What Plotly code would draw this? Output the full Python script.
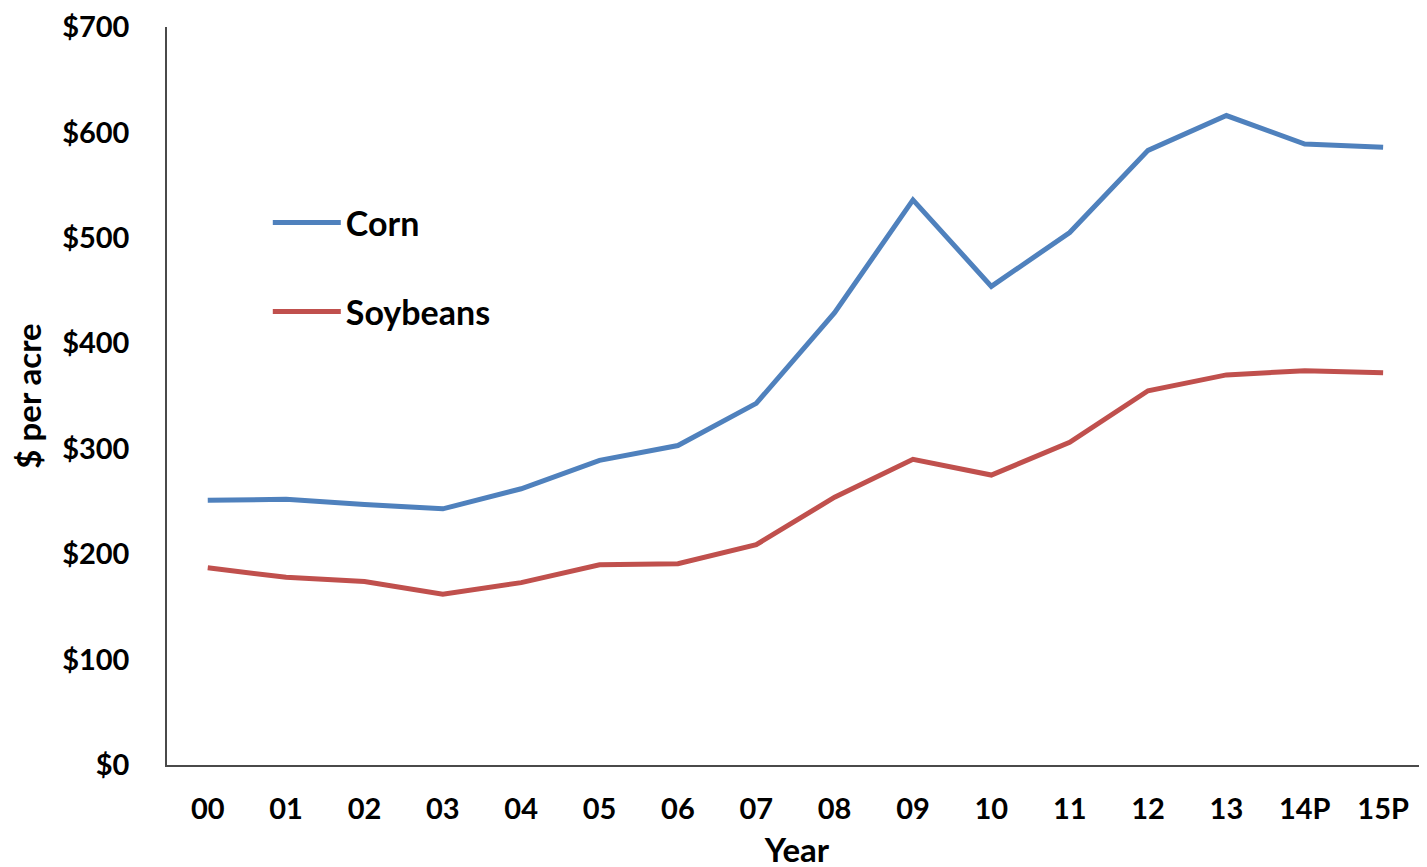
import plotly.graph_objects as go

years = ["00", "01", "02", "03", "04", "05", "06", "07", "08", "09", "10", "11", "12", "13", "14P", "15P"]
corn = [251, 252, 247, 243, 262, 289, 303, 343, 429, 536, 454, 505, 583, 616, 589, 586]
soybeans = [187, 178, 174, 162, 173, 190, 191, 209, 254, 290, 275, 306, 355, 370, 374, 372]
y_ticks = [0, 100, 200, 300, 400, 500, 600, 700]
y_tick_labels = ["$" + str(v) for v in y_ticks]

FONT = "Lato"

fig = go.Figure()
fig.add_trace(go.Scatter(x=years, y=corn, mode="lines", name="Corn",
                         line=dict(color="#4F81BD", width=5), legendgroup="a"))
fig.add_trace(go.Scatter(x=years, y=soybeans, mode="lines", name="Soybeans",
                         line=dict(color="#C0504D", width=5), legendgroup="b"))

fig.update_layout(
    width=1427, height=867,
    margin=dict(l=159, r=8, t=19, b=110),
    paper_bgcolor="white", plot_bgcolor="white",
    font=dict(family=FONT, size=29, color="black", weight="bold"),
    showlegend=True,
    legend=dict(x=0.08, y=0.774, xanchor="left", yanchor="top",
                font=dict(family=FONT, size=34, color="black", weight="bold"),
                tracegroupgap=42, itemwidth=68, bgcolor="rgba(0,0,0,0)"),
    xaxis=dict(
        type="category", range=[-0.52, 15.56], automargin=False,
        showline=True, linecolor="#4a4a4a", linewidth=1.5,
        showgrid=False, ticks="", ticklabelstandoff=17,
        tickfont=dict(family=FONT, size=29, weight="bold"),
        title=dict(text="Year", standoff=15,
                   font=dict(family=FONT, size=33, weight="bold")),
    ),
    yaxis=dict(
        range=[0, 700], tickvals=y_ticks, ticktext=y_tick_labels, automargin=False,
        showline=True, linecolor="#4a4a4a", linewidth=1.5,
        showgrid=False, zeroline=False, ticks="", ticklabelstandoff=30,
        tickfont=dict(family=FONT, size=29, weight="bold"),
        title=dict(text="$ per acre", standoff=22,
                   font=dict(family=FONT, size=33, weight="bold")),
    ),
)

fig.write_html("out.html")
